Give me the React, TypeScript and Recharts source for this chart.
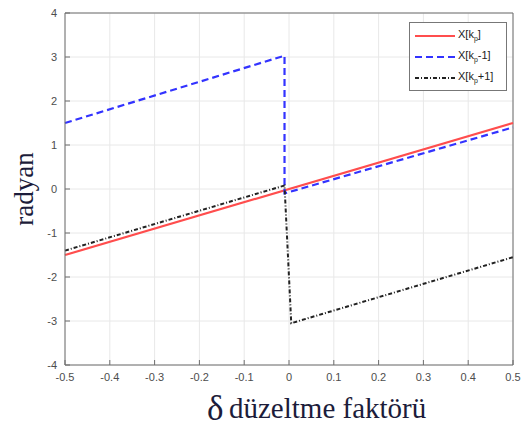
import { LineChart, Line, XAxis, YAxis, CartesianGrid, ReferenceLine } from 'recharts'

// delta (x) ticks and radian (y) ticks
const X_TICKS = [-0.5, -0.4, -0.3, -0.2, -0.1, 0, 0.1, 0.2, 0.3, 0.4, 0.5]
const Y_TICKS = [-4, -3, -2, -1, 0, 1, 2, 3, 4]

// X[k_p]
const kpDelta = [-0.5, 0.5]
const kpPhase = [-1.5, 1.5]

// X[k_p - 1]
const kpMinusDelta = [-0.5, -0.01, -0.01, 0.5]
const kpMinusPhase = [1.5, 3.03, -0.1, 1.4]

// X[k_p + 1]
const kpPlusDelta = [-0.5, -0.01, 0.005, 0.5]
const kpPlusPhase = [-1.4, 0.08, -3.05, -1.55]

const toPoints = (xs: number[], ys: number[]) => xs.map((x, i) => ({ x, y: ys[i] }))

const SERIES = [
  { key: 'kp', data: toPoints(kpDelta, kpPhase), color: '#ff4d4d', dash: undefined, width: 2.2, tail: '' },
  { key: 'kpm', data: toPoints(kpMinusDelta, kpMinusPhase), color: '#3333ff', dash: '7 4', width: 2.2, tail: '-1' },
  { key: 'kpp', data: toPoints(kpPlusDelta, kpPlusPhase), color: '#222222', dash: '4 2 1 2', width: 2, tail: '+1' },
]

const AXIS = '#6e6e6e'
const SERIF = '"Liberation Serif", "Times New Roman", serif'
const TICK = { fill: '#4d4d4d', fontSize: 11, fontFamily: 'Arial, "Liberation Sans", sans-serif' }

function LegendBox() {
  return (
    <div style={{
      position: 'absolute', left: 409, top: 22, boxSizing: 'border-box',
      border: '1.5px solid #777', background: '#fff', padding: '2px 4px 2px 5px',
      fontFamily: 'Arial, "Liberation Sans", sans-serif', fontSize: 11, color: '#222', width: 98,
    }}>
      {SERIES.map(s => (
        <div key={s.key} style={{ display: 'flex', alignItems: 'center', height: 21 }}>
          <svg width={40} height={6} style={{ marginRight: 3 }}>
            <line x1={0} y1={3} x2={40} y2={3} stroke={s.color} strokeWidth={s.width} strokeDasharray={s.dash} />
          </svg>
          <span>X[k<sub style={{ fontSize: 7 }}>p</sub>{s.tail}]</span>
        </div>
      ))}
    </div>
  )
}

function YLabel({ viewBox }: any) {
  const cy = viewBox.y + viewBox.height / 2
  return (
    <text x={33} y={cy} transform={`rotate(-90 33 ${cy})`} textAnchor="middle"
      style={{ fontFamily: SERIF, fontSize: 27 }} fill="#1c1c3a">
      radyan
    </text>
  )
}

function XLabel() {
  return (
    <g fill="#1c1c3a">
      <text x={207} y={420} style={{ fontFamily: SERIF, fontSize: 35 }}>δ</text>
      <text x={229} y={418} style={{ fontFamily: SERIF, fontSize: 29 }}>düzeltme faktörü</text>
    </g>
  )
}

export default function App() {
  return (
    <div style={{ position: 'absolute', left: 0, top: 0, width: 522, height: 430, background: '#fff' }}>
      <LineChart width={522} height={430} margin={{ top: 13, right: 9, left: 0, bottom: 0 }}>
        <CartesianGrid stroke="#e8e8e8" strokeWidth={1} />
        <XAxis dataKey="x" type="number" domain={[-0.5, 0.5]} ticks={X_TICKS} allowDuplicatedCategory={false}
          interval={0} height={65} stroke={AXIS} tick={TICK} tickSize={-5} tickMargin={13}
          label={<XLabel />} />
        <YAxis type="number" domain={[-4, 4]} ticks={Y_TICKS} interval={0} width={65} stroke={AXIS}
          tick={TICK} tickSize={-5} tickMargin={13} label={<YLabel />} />
        <ReferenceLine y={4} stroke={AXIS} />
        <ReferenceLine x={0.5} stroke={AXIS} />
        {SERIES.map(s => (
          <Line key={s.key} data={s.data} dataKey="y" type="linear" stroke={s.color} strokeWidth={s.width}
            strokeDasharray={s.dash} dot={false} isAnimationActive={false} />
        ))}
      </LineChart>
      <LegendBox />
    </div>
  )
}
